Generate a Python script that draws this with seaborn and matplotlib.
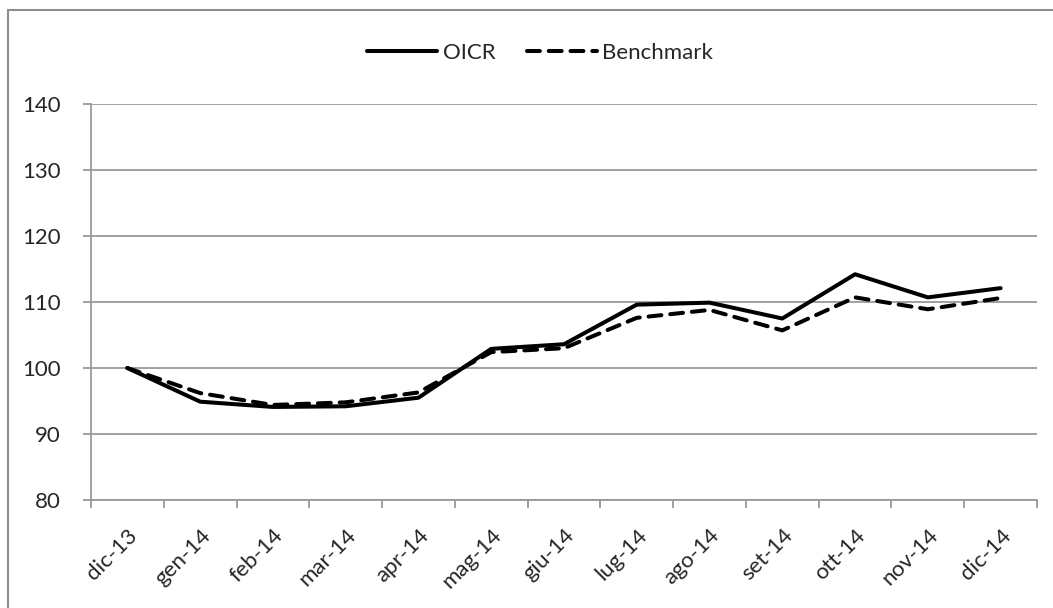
import pandas as pd
import matplotlib.pyplot as plt
import seaborn as sns
from matplotlib.patches import Rectangle

months = ['dic-13', 'gen-14', 'feb-14', 'mar-14', 'apr-14', 'mag-14', 'giu-14',
          'lug-14', 'ago-14', 'set-14', 'ott-14', 'nov-14', 'dic-14']
oicr = [100.0, 94.9, 94.1, 94.2, 95.5, 102.9, 103.6, 109.6, 109.9, 107.5, 114.2, 110.7, 112.1]
benchmark = [100.0, 96.2, 94.4, 94.8, 96.3, 102.4, 103.0, 107.6, 108.8, 105.7, 110.7, 108.9, 110.6]

df = pd.DataFrame({'mese': list(range(len(months))) * 2,
                   'valore': oicr + benchmark,
                   'serie': ['OICR'] * len(months) + ['Benchmark'] * len(months)})

sns.set_style("white")
plt.rcParams['font.family'] = ['Lato', 'DejaVu Sans']
grey = '#999999'

fig = plt.figure(figsize=(10.53, 6.08), dpi=100)
ax = fig.add_axes([0.0864, 0.1776, 0.8984, 0.6514])

sns.lineplot(data=df, x='mese', y='valore', style='serie', color='black',
             dashes={'OICR': '', 'Benchmark': (3.2, 2.2)}, linewidth=2.9, ax=ax)
ax.lines[1].set_dash_capstyle('round')

ax.set_xlim(-0.5, len(months) - 0.5)
ax.set_ylim(80, 140)
ax.set_yticks(range(80, 141, 10))
ax.yaxis.grid(True, color=grey, linewidth=1.3)
ax.set_xticks(range(len(months)))
ax.set_xticklabels(months, rotation=45, ha='right', rotation_mode='anchor')
ax.set_xticks([i - 0.5 for i in range(len(months) + 1)], minor=True)
ax.tick_params(axis='x', which='major', length=0, labelsize=16, pad=18)
ax.tick_params(axis='x', which='minor', length=6, color=grey, width=1.3, direction='out', bottom=True)
ax.tick_params(axis='y', length=6, color=grey, width=1.3, direction='out', left=True, labelsize=16, pad=16)
ax.set_xlabel('')
ax.set_ylabel('')
for s in ['top', 'right']:
    ax.spines[s].set_visible(False)
for s in ['bottom', 'left']:
    ax.spines[s].set_color(grey)
    ax.spines[s].set_linewidth(1.3)

handles, labels = ax.get_legend_handles_labels()
leg = ax.legend(handles, labels, loc='center', bbox_to_anchor=(0.513, 0.913),
                bbox_transform=fig.transFigure, ncol=2, frameon=False, fontsize=16,
                handlelength=3.15, handletextpad=0.25, columnspacing=1.4)
for h in leg.get_lines():
    h.set_linewidth(2.9)
    h.set_dash_capstyle('round')

# chart border: left and top edges visible, right and bottom run off the image
fig.patches.append(Rectangle((0.0076, -0.02), 1.0, 1.0036, transform=fig.transFigure,
                             fill=False, edgecolor='#8c8c8c', linewidth=1.5))

fig.savefig('out.png', dpi=100)
